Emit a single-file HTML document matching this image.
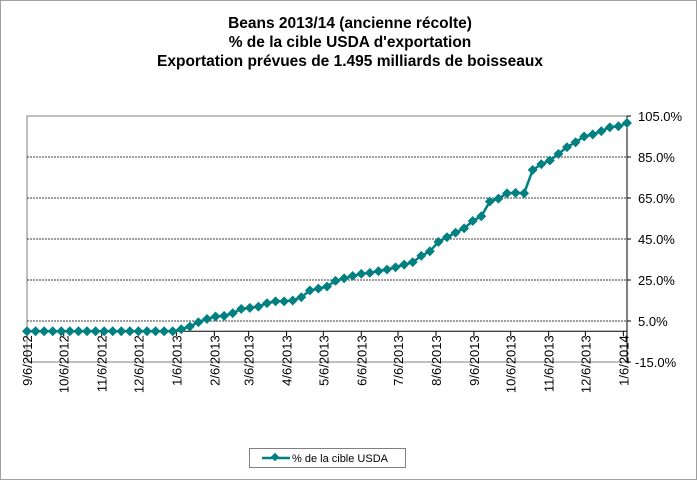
<!DOCTYPE html>
<html><head><meta charset="utf-8"><style>
body{margin:0;background:#fff;}
svg{display:block;font-family:"Liberation Sans",Arial,sans-serif;}
</style></head><body>
<svg id="chart" width="698" height="480" viewBox="0 0 698 480">
<rect x="0.5" y="0.5" width="696" height="479" fill="#fff" stroke="#a0a0a0"/>
<g font-weight="bold" font-size="15.5" text-anchor="middle">
<text x="350" y="28">Beans 2013/14 (ancienne récolte)</text>
<text x="350" y="47">% de la cible USDA d'exportation</text>
<text x="350" y="66">Exportation prévues de 1.495 milliards de boisseaux</text>
</g>
<g id="grid"></g><g id="axes"></g><g id="series"></g>
<g>
<rect x="249.5" y="448.5" width="156" height="19" fill="#fff" stroke="#808080"/>
<line x1="262" y1="458" x2="290" y2="458" stroke="#008080" stroke-width="2.5"/>
<rect x="272" y="454" width="6" height="6" fill="#008080" transform="rotate(45 275 457)"/>
<text x="292" y="462" font-size="11">% de la cible USDA</text>
</g>
</svg>
<script>
const values=[0,0,0,0,0,0,0,0,0,0,0,0,0,0,0,0,0,0,1,2.3,4.4,6,7.2,7.5,8.8,10.9,11.4,12,13.7,14.6,14.6,15,16.6,19.9,20.8,21.8,24.6,25.8,27,28,28.5,29.3,30.1,31.2,32.5,33.7,36.8,39,43.6,45.9,48.1,50.2,53.8,56.1,63.3,64.7,67.3,67.5,67.3,78.7,81.5,83.3,86.5,89.8,92.2,95,96,97.6,99.5,100,101.6];
const yTicks=[-15,5,25,45,65,85,105];
const xTickLabels=["9/6/2012","10/6/2012","11/6/2012","12/6/2012","1/6/2013","2/6/2013","3/6/2013","4/6/2013","5/6/2013","6/6/2013","7/6/2013","8/6/2013","9/6/2013","10/6/2013","11/6/2013","12/6/2013","1/6/2014"];
const startDate=[2012,8,6];
const NS="http://www.w3.org/2000/svg";
const L=27,R=627,T=116,B=362;
const day0=Date.UTC(startDate[0],startDate[1],startDate[2]);
const pxPerDay=(R-L)/490;
function xDay(d){return L+d*pxPerDay;}
function xIdx(i){return xDay(i*7);}
function y(v){return T+(105-v)*(B-T)/120;}
function mk(tag,at,parent){const e=document.createElementNS(NS,tag);for(const k in at)e.setAttribute(k,at[k]);parent.appendChild(e);return e;}
const grid=document.getElementById('grid'),axes=document.getElementById('axes'),series=document.getElementById('series');
const pa=mk('rect',{x:L,y:T,width:R-L,height:B-T,fill:'none',stroke:'#808080'},grid);


yTicks.forEach(v=>{
 if(v>-15&&v<105){const g=mk('line',{x1:L,x2:R,y1:y(v),y2:y(v),stroke:'#000','stroke-width':0.8,'stroke-dasharray':'2,1'},grid);
 
 }
 const tk=mk('line',{x1:R,x2:R+4,y1:y(v),y2:y(v),stroke:'#000'},axes);
 
 
 const t=mk('text',{x:v<0?R+8:R+11,y:y(v)+5,'font-size':13},axes);t.textContent=v.toFixed(1)+'%';
 
 
});
const ya=mk('line',{x1:R,x2:R,y1:T,y2:B,stroke:'#000'},axes);


const xa=mk('line',{x1:L,x2:R,y1:y(0),y2:y(0),stroke:'#000'},axes);


xTickLabels.forEach(s=>{
 const p=s.split('/').map(Number);
 const d=(Date.UTC(p[2],p[0]-1,p[1])-day0)/86400000;
 const x=xDay(d);
 const tk=mk('line',{x1:x,x2:x,y1:y(0),y2:y(0)+5,stroke:'#000'},axes);
 
 
 const t=mk('text',{x:0,y:0,'font-size':13,'text-anchor':'end',transform:`translate(${x+5},${y(0)+4}) rotate(-90)`},axes);
 t.textContent=s;
 
 
});
const pts=values.map((v,i)=>xIdx(i).toFixed(1)+','+y(v).toFixed(1)).join(' ');
const pl=mk('polyline',{points:pts,fill:'none',stroke:'#008080','stroke-width':2.5},series);


values.forEach((v,i)=>{
 const cx=xIdx(i),cy=y(v);
 const m=mk('rect',{x:cx-3.5,y:cy-3.5,width:7,height:7,fill:'#008080',transform:`rotate(45 ${cx} ${cy})`},series);
 
 
});
</script>
</body></html>
